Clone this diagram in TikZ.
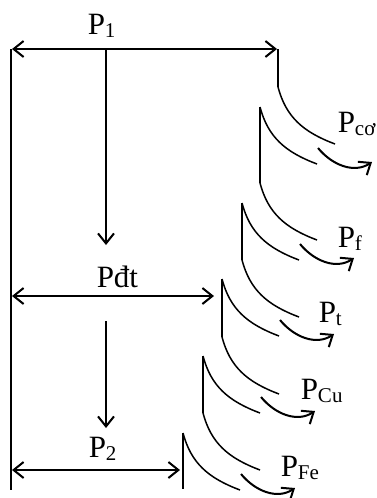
\documentclass[tikz,border=0pt]{standalone}
\usepackage{fontspec}
\setmainfont{Liberation Serif}
\usetikzlibrary{arrows.meta}
\newcommand{\lowsub}[1]{\raisebox{-3pt}{\fontsize{21}{23}\selectfont #1}}
\begin{document}
\begin{tikzpicture}[x=1pt, y=-1pt, line width=1.5pt,
    >={Straight Barb[length=10pt,width=16pt]},
    font=\fontsize{31}{36}\selectfont,
    lbl/.style={anchor=base west, inner sep=0pt},
    power/.style={line width=2pt},
    loss/.style={line width=2pt, ->}]
    \useasboundingbox (0,0) rectangle (376,498);
    % main power flow
    \coordinate (base top) at (11,49);
    \coordinate (base bot) at (11,490);
    \coordinate (p1 l) at (12,49);
    \coordinate (p1 r) at (277,49);
    \coordinate (p1 m) at (106,49);
    \coordinate (dt top) at (106,245);
    \coordinate (pdt l) at (12,296);
    \coordinate (pdt r) at (214,296);
    \coordinate (dt bot) at (106,321);
    \coordinate (p2 top) at (106,428);
    \coordinate (p2 l) at (12,470);
    \coordinate (p2 r) at (180,470);
    \draw (base top) -- (base bot);
    \draw[power, <->] (p1 l) -- (p1 r);
    \draw[power, ->] (p1 m) -- (dt top);
    \draw[power, <->] (pdt l) -- (pdt r);
    \draw[power, ->] (dt bot) -- (p2 top);
    \draw[power, <->] (p2 l) -- (p2 r);
    \node[lbl] (p1) at (87,34) {P\lowsub{1}};
    \node[lbl] (pdt) at (96,287) {Pđt};
    \node[lbl] (p2) at (88,457) {P\lowsub{2}};
    % stages
    \foreach \x/\t/\b in {278/49/87, 260/107/183, 242/203/260, 222/279/337, 203/356/413, 183/433/489}
        \draw (\x,\t) -- (\x,\b);
    \foreach \x/\y in {278/87, 260/183, 242/260, 222/337, 203/413,
                       260/107, 242/203, 222/279, 203/356, 183/433}
        \draw (\x,\y) .. controls (\x+8,\y+30) and (\x+25,\y+45) .. (\x+57,\y+57);
    % losses
    \foreach \x/\y in {260/107, 242/203, 222/279, 203/356, 183/433}
        \draw[loss] (\x+58,\y+41) .. controls (\x+72,\y+58) and (\x+94,\y+67) .. (\x+112,\y+55);
    \node[lbl] (pco) at (337,132) {P\lowsub{cơ}};
    \node[lbl] (pf) at (337,247) {P\lowsub{f}};
    \node[lbl] (pt) at (318,322) {P\lowsub{t}};
    \node[lbl] (pcu) at (300,399) {P\lowsub{Cu}};
    \node[lbl] (pfe) at (280,476) {P\lowsub{Fe}};
\end{tikzpicture}
\end{document}
